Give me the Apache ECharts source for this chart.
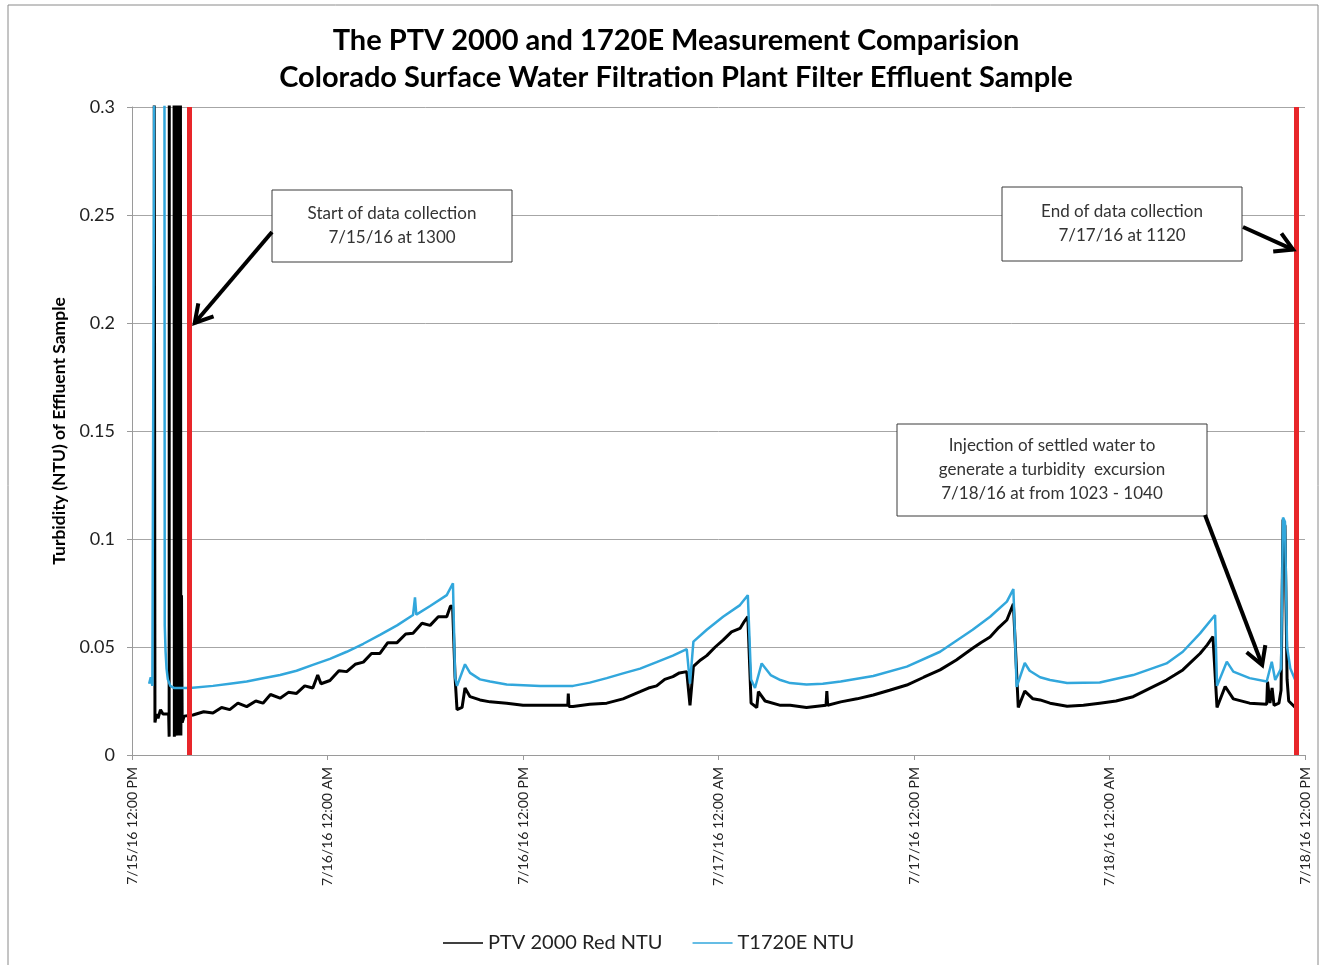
<!DOCTYPE html>
<html>
<head>
<meta charset="utf-8">
<script src="https://cdn.jsdelivr.net/npm/echarts@6/dist/echarts.min.js"></script>
<style>
  html, body { margin: 0; padding: 0; background: #fff; }
  #chart { width: 1321px; height: 965px; }
</style>
</head>
<body>
<div id="chart"></div>
<script>
// hours after 7/15/16 12:00 PM
var tickLabels = ['7/15/16 12:00 PM', '7/16/16 12:00 AM', '7/16/16 12:00 PM', '7/17/16 12:00 AM',
  '7/17/16 12:00 PM', '7/18/16 12:00 AM', '7/18/16 12:00 PM']
var seriesNames = ['PTV 2000 Red NTU', 'T1720E NTU']
var startHour = 3.5
var endHour = 71.48

var ptvHours = [1.36, 1.41, 1.5, 1.6, 1.75, 1.9, 2.25, 2.28, 2.29, 2.58, 2.6, 2.66, 2.74, 2.76, 2.86, 2.88, 2.9, 2.95, 2.97, 3.0,
  3.04, 3.08, 3.2, 3.74, 4.4, 4.97, 5.5, 6.0, 6.5, 7.04, 7.6, 8.04, 8.5, 9.09, 9.6, 10.1, 10.6, 11.1, 11.4, 11.6,
  12.15, 12.7, 13.18, 13.7, 14.2, 14.7, 15.22, 15.7, 16.27, 16.8, 17.25, 17.8, 18.3, 18.8, 19.32, 19.55, 19.68, 19.83, 19.95, 20.26,
  20.44, 20.75, 21.36, 21.98, 23.0, 24.0, 25.05, 26.0, 26.75, 26.78, 26.82, 27.07, 28.1, 29.14, 30.14, 31.19, 31.7, 32.2, 32.7, 33.2,
  33.6, 34.05, 34.25, 34.46, 34.9, 35.28, 35.8, 36.28, 36.8, 37.32, 37.6, 37.8, 38.0, 38.35, 38.45, 38.86, 39.8, 40.4, 41.4, 42.6,
  42.65, 42.7, 43.5, 44.5, 45.5, 46.5, 47.56, 48.6, 49.6, 50.6, 51.6, 52.1, 52.67, 53.2, 53.7, 54.1, 54.4, 54.8, 55.3, 55.74,
  56.35, 57.4, 58.4, 59.4, 60.4, 61.45, 62.5, 63.5, 64.0, 64.5, 65.0, 65.56, 66.0, 66.35, 66.6, 67.1, 67.6, 68.6, 69.65, 69.7,
  69.85, 69.98, 70.1, 70.4, 70.53, 70.65, 70.77, 70.9, 71.0, 71.4]
var ptvNtu = [0.35, 0.015, 0.019, 0.017, 0.021, 0.019, 0.019, 0.0085, 0.35, 0.35, 0.0085, 0.019, 0.009, 0.35, 0.35, 0.009, 0.35, 0.165, 0.35, 0.009,
  0.074, 0.015, 0.018, 0.0185, 0.020, 0.0194, 0.022, 0.021, 0.024, 0.0224, 0.025, 0.024, 0.028, 0.0263, 0.029, 0.0285, 0.032, 0.031, 0.037, 0.033,
  0.0345, 0.039, 0.0386, 0.042, 0.043, 0.047, 0.047, 0.052, 0.052, 0.056, 0.0564, 0.061, 0.060, 0.064, 0.064, 0.069, 0.0687, 0.036, 0.021, 0.022,
  0.031, 0.027, 0.0255, 0.0246, 0.024, 0.023, 0.023, 0.023, 0.023, 0.0284, 0.0225, 0.0225, 0.0235, 0.024, 0.026, 0.0293, 0.031, 0.032, 0.035, 0.0363,
  0.038, 0.0386, 0.023, 0.041, 0.044, 0.046, 0.050, 0.0532, 0.057, 0.0586, 0.062, 0.064, 0.024, 0.022, 0.0293, 0.025, 0.023, 0.023, 0.022, 0.023,
  0.0296, 0.023, 0.0246, 0.026, 0.0278, 0.030, 0.0324, 0.036, 0.0394, 0.044, 0.0494, 0.052, 0.0546, 0.059, 0.0625, 0.070, 0.022, 0.0296, 0.026, 0.0255,
  0.024, 0.0226, 0.023, 0.024, 0.025, 0.027, 0.031, 0.0347, 0.037, 0.0394, 0.043, 0.047, 0.051, 0.0548, 0.022, 0.0317, 0.026, 0.024, 0.0235, 0.034,
  0.024, 0.031, 0.023, 0.024, 0.030, 0.109, 0.106, 0.035, 0.025, 0.022]

var t1720Hours = [1.05, 1.15, 1.25, 1.36, 1.38, 1.99, 2.01, 2.06, 2.12, 2.2, 2.35, 2.6, 3.0, 3.56, 4.97, 6.0, 7.04, 8.04, 9.09, 10.1,
  11.1, 12.15, 13.18, 14.2, 15.22, 16.27, 17.25, 17.37, 17.45, 18.3, 19.32, 19.7, 19.83, 19.95, 20.44, 20.75, 21.36, 21.98, 23.0, 25.05,
  27.07, 28.1, 29.14, 30.14, 31.19, 32.2, 33.2, 34.05, 34.25, 34.46, 35.28, 36.28, 37.32, 37.8, 38.0, 38.24, 38.65, 39.2, 39.8, 40.4,
  41.4, 42.4, 43.5, 45.5, 47.56, 49.6, 51.6, 52.67, 53.7, 54.1, 54.3, 54.8, 55.1, 55.74, 56.35, 57.4, 59.4, 61.45, 63.5, 64.5,
  65.56, 66.48, 66.6, 67.2, 67.6, 68.6, 69.65, 69.96, 70.17, 70.53, 70.65, 70.77, 70.9, 71.1, 71.4]
var t1720Ntu = [0.033, 0.036, 0.032, 0.032, 0.35, 0.35, 0.060, 0.048, 0.040, 0.035, 0.032, 0.031, 0.031, 0.031, 0.032, 0.033, 0.034, 0.0355, 0.037, 0.039,
  0.0417, 0.0445, 0.0478, 0.0515, 0.0556, 0.060, 0.0648, 0.073, 0.065, 0.069, 0.074, 0.0795, 0.036, 0.032, 0.042, 0.038, 0.035, 0.034, 0.0326, 0.0319,
  0.032, 0.0335, 0.0356, 0.0378, 0.040, 0.043, 0.046, 0.049, 0.033, 0.0525, 0.058, 0.064, 0.0694, 0.074, 0.035, 0.031, 0.0424, 0.037, 0.0347, 0.0333,
  0.0326, 0.033, 0.034, 0.0366, 0.0409, 0.0478, 0.058, 0.064, 0.071, 0.0768, 0.0315, 0.0426, 0.039, 0.036, 0.0347, 0.0333, 0.0336, 0.037, 0.0424, 0.0478,
  0.0563, 0.0648, 0.032, 0.0432, 0.0386, 0.0356, 0.034, 0.0432, 0.0347, 0.040, 0.110, 0.108, 0.050, 0.040, 0.0347]

function pairs (xs, ys) {
  return xs.map(function (x, i) { return [x, ys[i]] })
}

var font = 'Lato, "Open Sans", sans-serif'
var chart = echarts.init(document.getElementById('chart'))

var option = {
  animation: false,
  backgroundColor: '#fff',
  title: {
    text: 'The PTV 2000 and 1720E Measurement Comparision\nColorado Surface Water Filtration Plant Filter Effluent Sample',
    left: 676,
    textAlign: 'center',
    top: 22,
    padding: 0,
    textStyle: { fontFamily: font, fontSize: 29, fontWeight: 'bold', color: '#000', lineHeight: 37 }
  },
  legend: {
    left: 443,
    top: 933,
    padding: 0,
    itemWidth: 40,
    itemHeight: 1.5,
    icon: 'rect',
    itemGap: 30,
    textStyle: { fontFamily: font, fontSize: 20, color: '#222' },
    data: seriesNames
  },
  grid: { left: 132, right: 16, top: 107, bottom: 210 },
  xAxis: {
    type: 'value',
    min: 0,
    max: 72,
    interval: 12,
    axisLine: { lineStyle: { color: '#9a9a9a' } },
    axisTick: { show: true, length: 5, lineStyle: { color: '#9a9a9a' } },
    splitLine: { show: false },
    axisLabel: {
      rotate: 90,
      margin: 12,
      fontFamily: font,
      fontSize: 14,
      color: '#222',
      formatter: function (v) { return tickLabels[Math.round(v / 12)] }
    }
  },
  yAxis: {
    type: 'value',
    min: 0,
    max: 0.3,
    interval: 0.05,
    name: 'Turbidity (NTU) of Effluent Sample',
    nameLocation: 'middle',
    nameGap: 60,
    nameTextStyle: { fontFamily: font, fontSize: 17.5, fontWeight: 'bold', color: '#000' },
    axisLine: { show: true, lineStyle: { color: '#9a9a9a' } },
    axisTick: { show: true, length: 5, lineStyle: { color: '#9a9a9a' } },
    splitLine: { lineStyle: { color: '#a6a6a6', width: 1 } },
    axisLabel: { margin: 17, fontFamily: font, fontSize: 18, color: '#222' }
  },
  series: [
    {
      name: seriesNames[0],
      type: 'line',
      showSymbol: false,
      symbol: 'none',
      color: '#000',
      lineStyle: { color: '#000', width: 3 },
      data: pairs(ptvHours, ptvNtu),
      markLine: {
        silent: true,
        symbol: 'none',
        label: { show: false },
        lineStyle: { color: '#e8262a', width: 5, type: 'solid' },
        data: [{ xAxis: startHour }, { xAxis: endHour }]
      }
    },
    {
      name: seriesNames[1],
      type: 'line',
      showSymbol: false,
      symbol: 'none',
      color: '#32a7dc',
      lineStyle: { color: '#32a7dc', width: 2.5 },
      data: pairs(t1720Hours, t1720Ntu)
    }
  ]
}
chart.setOption(option)

// annotation boxes and arrows
function box (x, y, w, h, text) {
  return {
    type: 'group',
    z: 50,
    children: [
      { type: 'rect', shape: { x: x, y: y, width: w, height: h }, style: { fill: '#fff', stroke: '#3a3a3a', lineWidth: 1 }, z: 50 },
      {
        type: 'text',
        x: x + w / 2,
        y: y + h / 2,
        z: 51,
        style: { text: text, fontFamily: font, fontSize: 17, fill: '#333', align: 'center', verticalAlign: 'middle', lineHeight: 24 }
      }
    ]
  }
}

function arrow (from, tipData) {
  var tip = chart.convertToPixel({ gridIndex: 0 }, tipData)
  var dx = tip[0] - from[0]
  var dy = tip[1] - from[1]
  var len = Math.sqrt(dx * dx + dy * dy)
  var ux = dx / len
  var uy = dy / len
  var head = 20
  var a = Math.PI / 6
  function side (s) {
    var c = Math.cos(s * a)
    var sn = Math.sin(s * a)
    return [tip[0] - head * (ux * c - uy * sn), tip[1] - head * (uy * c + ux * sn)]
  }
  return [
    { type: 'line', shape: { x1: from[0], y1: from[1], x2: tip[0], y2: tip[1] }, style: { stroke: '#000', lineWidth: 4 }, z: 60 },
    { type: 'polyline', shape: { points: [side(1), tip, side(-1)] }, style: { stroke: '#000', lineWidth: 4, fill: null, lineJoin: 'miter' }, z: 60 }
  ]
}

var elements = [
  { type: 'rect', shape: { x: 8, y: 5, width: 1310, height: 975 }, style: { fill: null, stroke: '#8a8a8a', lineWidth: 1 }, z: 1, silent: true },
  box(272, 190, 240, 72, 'Start of data collection\n7/15/16 at 1300'),
  box(1002, 187, 240, 74, 'End of data collection\n7/17/16 at 1120'),
  box(897, 424, 310, 92, 'Injection of settled water to\ngenerate a turbidity  excursion\n7/18/16 at from 1023 - 1040')
]
elements = elements.concat(arrow([272, 232], [3.85, 0.2]))
elements = elements.concat(arrow([1243, 227], [71.27, 0.234]))
elements = elements.concat(arrow([1205, 515], [69.37, 0.0417]))

chart.setOption({ graphic: elements })
</script>
</body>
</html>
